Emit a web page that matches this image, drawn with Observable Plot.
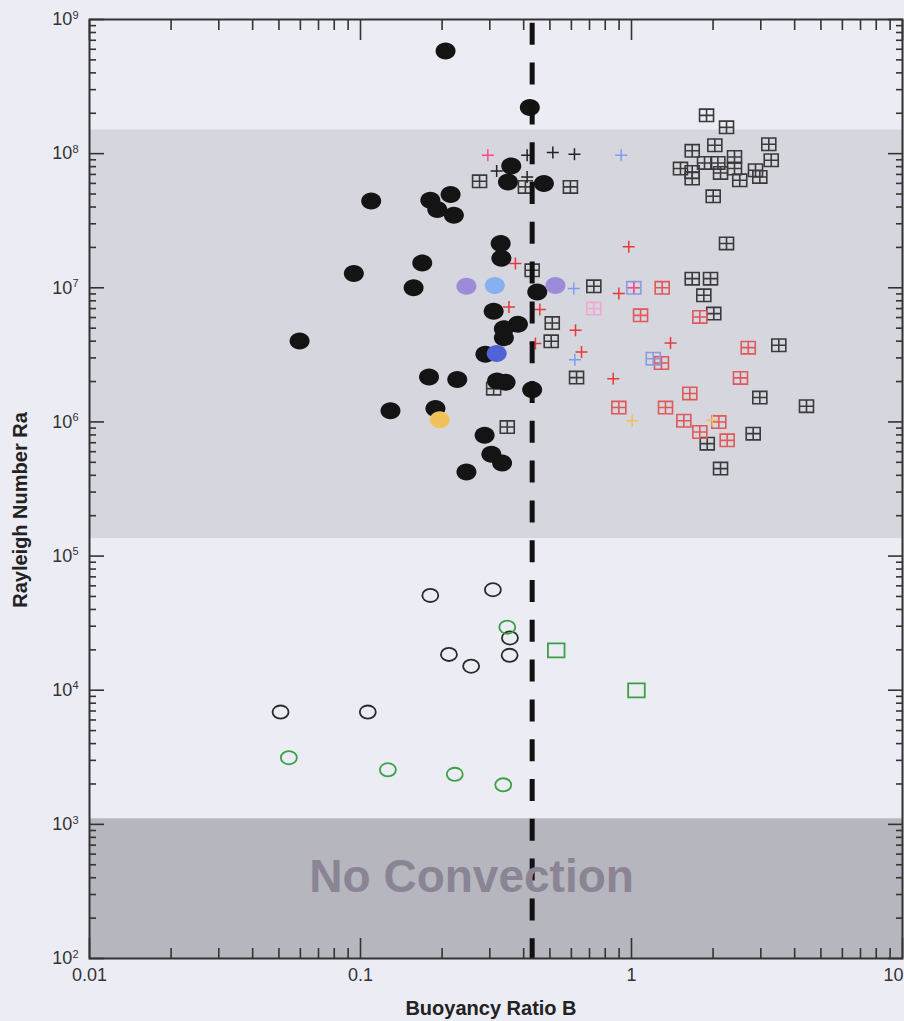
<!DOCTYPE html>
<html><head><meta charset="utf-8">
<script src="https://cdn.jsdelivr.net/npm/d3@7"></script>
<script src="https://cdn.jsdelivr.net/npm/@observablehq/plot@0.6"></script>
<style>html,body{margin:0;padding:0;overflow:hidden;background:#ececf4;}</style>
</head><body><div id="chart"></div>
<script>
// ---- data: [Buoyancy ratio B, Rayleigh number Ra] ----
const blackDots = [
  [0.206, 5.83e8], [0.4215, 2.21e8], [0.360, 8.1e7], [0.350, 6.15e7], [0.475, 5.98e7],
  [0.1095, 4.44e7], [0.181, 4.49e7], [0.215, 4.95e7], [0.192, 3.83e7], [0.221, 3.47e7],
  [0.329, 2.14e7], [0.331, 1.66e7], [0.0945, 1.28e7], [0.169, 1.53e7], [0.157, 1.0e7],
  [0.449, 9.3e6], [0.310, 6.68e6], [0.381, 5.34e6], [0.338, 4.96e6], [0.338, 4.25e6],
  [0.289, 3.19e6], [0.0596, 4.01e6], [0.179, 2.16e6], [0.2275, 2.07e6], [0.319, 2.02e6],
  [0.343, 1.98e6], [0.430, 1.74e6], [0.129, 1.21e6], [0.189, 1.26e6], [0.287, 7.94e5],
  [0.304, 5.73e5], [0.333, 4.94e5], [0.246, 4.23e5]
];
const purpleDots = [[0.246, 1.026e7], [0.524, 1.04e7]];
const lightBlueDots = [[0.313, 1.04e7]];
const blueDots = [[0.318, 3.23e6]];
const orangeDots = [[0.196, 1.04e6]];

const blackPlus = [[0.412, 9.73e7], [0.5125, 1.02e8], [0.616, 9.9e7], [0.318, 7.43e7], [0.412, 6.7e7]];
const pinkPlus = [[0.295, 9.73e7], [1.02, 1.0e7]];
const redPlus = [
  [0.373, 1.52e7], [0.353, 7.19e6], [0.459, 6.88e6], [0.442, 3.84e6], [0.6215, 4.82e6],
  [0.654, 3.32e6], [0.977, 2.02e7], [0.898, 9.05e6], [1.393, 3.88e6], [0.856, 2.10e6]
];
const bluePlus = [[0.916, 9.73e7], [0.6125, 9.86e6], [0.618, 2.91e6]];
const orangePlus = [[1.006, 1.02e6], [1.986, 1.03e6]];

const blackBoxes = [
  [0.275, 6.22e7], [0.406, 5.65e7], [0.595, 5.65e7], [1.892, 1.93e8], [2.242, 1.57e8],
  [1.675, 1.05e8], [2.030, 1.155e8], [3.211, 1.175e8], [3.278, 8.93e7], [1.516, 7.74e7],
  [1.675, 7.30e7], [1.675, 6.52e7], [1.860, 8.52e7], [2.083, 8.52e7], [2.131, 7.18e7],
  [2.399, 9.45e7], [2.399, 7.74e7], [2.509, 6.33e7], [2.868, 7.52e7], [2.975, 6.7e7],
  [2.002, 4.81e7], [2.242, 2.14e7], [0.430, 1.35e7], [0.726, 1.026e7], [0.510, 5.46e6],
  [0.5055, 3.99e6], [0.627, 2.14e6], [0.310, 1.77e6], [0.348, 9.16e5], [1.675, 1.17e7],
  [1.957, 1.17e7], [1.849, 8.79e6], [2.012, 6.42e6], [3.496, 3.73e6], [2.975, 1.52e6],
  [4.423, 1.31e6], [1.903, 6.89e5], [2.812, 8.18e5], [2.131, 4.49e5]
];
const redBoxes = [
  [1.298, 1.0e7], [1.080, 6.23e6], [1.787, 6.06e6], [2.696, 3.58e6], [1.290, 2.75e6],
  [2.524, 2.13e6], [1.641, 1.63e6], [0.898, 1.28e6], [1.335, 1.28e6], [1.560, 1.02e6],
  [2.100, 9.98e5], [1.787, 8.41e5], [2.255, 7.29e5]
];
const blueBoxes = [[1.02, 1.0e7], [1.203, 2.96e6]];
const pinkBoxes = [[0.726, 7.0e6]];

const blackRings = [
  [0.181, 5.09e4], [0.308, 5.61e4], [0.356, 2.45e4], [0.212, 1.85e4], [0.256, 1.51e4],
  [0.355, 1.82e4], [0.1064, 6.87e3], [0.0507, 6.87e3]
];
const greenRings = [[0.348, 2.95e4], [0.0544, 3.14e3], [0.1262, 2.55e3], [0.2228, 2.36e3], [0.3363, 1.97e3]];
const greenSquares = [[0.5275, 1.98e4], [1.043, 9.97e3]];

const criticalB = [0.43];
const convectionBand = [[1.35e5, 1.5e8]];
const noConvectionBand = [[100, 1.1e3]];
const annotationText = ["No Convection"];
const annotationB = [0.257];
const annotationRa = [400];

const majorX = [0.01, 0.1, 1, 10];
const minorX = [0.02,0.03,0.04,0.05,0.06,0.07,0.08,0.09,0.2,0.3,0.4,0.5,0.6,0.7,0.8,0.9,2,3,4,5,6,7,8,9];
const majorY = [1e2,1e3,1e4,1e5,1e6,1e7,1e8,1e9];
const minorY = [];
for (const d of majorY.slice(0, -1)) for (let m = 2; m <= 9; m++) minorY.push(+(d * m).toPrecision(3));

const xLabel = "Buoyancy Ratio B";
const yLabel = "Rayleigh Number Ra";

// ---- symbols ----
const K = 0.5523;
const ellipse = (rx, ry) => ({draw(c) {
  c.moveTo(rx, 0);
  c.bezierCurveTo(rx, ry*K, rx*K, ry, 0, ry);
  c.bezierCurveTo(-rx*K, ry, -rx, ry*K, -rx, 0);
  c.bezierCurveTo(-rx, -ry*K, -rx*K, -ry, 0, -ry);
  c.bezierCurveTo(rx*K, -ry, rx, -ry*K, rx, 0);
  c.closePath();
}});
const box = (w, h) => ({draw(c) { c.rect(-w, -h, 2*w, 2*h); }});
const boxCross = (w, h) => ({draw(c) {
  c.rect(-w, -h, 2*w, 2*h); c.moveTo(-w, 0); c.lineTo(w, 0); c.moveTo(0, -h); c.lineTo(0, h);
}});
const plus = (w, h) => ({draw(c) { c.moveTo(-w, 0); c.lineTo(w, 0); c.moveTo(0, -h); c.lineTo(0, h); }});

const filled = (data, color) => Plot.dot(data, {x: d => d[0], y: d => d[1], r: 1,
  symbol: ellipse(10, 8.5), fill: color, stroke: "none"});
const outlined = (data, symbol, color, sw) => Plot.dot(data, {x: d => d[0], y: d => d[1], r: 1,
  symbol, fill: "none", stroke: color, strokeWidth: sw});

const axisColor = "#333";
const chart = Plot.plot({
  width: 904, height: 1021,
  marginLeft: 89, marginRight: 2, marginTop: 19, marginBottom: 63,
  x: {type: "log", domain: [0.01, 10], axis: null, label: null},
  y: {type: "log", domain: [100, 1e9], axis: null, label: null},
  style: {background: "#ececf4", fontFamily: "'Liberation Sans', Arial, sans-serif", fontSize: "18px", color: "#333"},
  marks: [
    Plot.rect(convectionBand, {y1: d => d[0], y2: d => d[1], fill: "#d6d6df"}),
    Plot.rect(noConvectionBand, {y1: d => d[0], y2: d => d[1], fill: "#b6b6be"}),
    outlined(blackBoxes, boxCross(7, 6.2), "#3a3a3a", 1.6),
    outlined(redBoxes, boxCross(7, 6.2), "#e05858", 1.6),
    outlined(blueBoxes, boxCross(7, 6.2), "#8c9be0", 1.6),
    outlined(pinkBoxes, boxCross(7, 6.2), "#f0a8d2", 1.6),
    outlined(blackPlus, plus(6, 6), "#222", 1.5),
    outlined(redPlus, plus(6, 6), "#e8393a", 1.5),
    outlined(pinkPlus, plus(6, 6), "#ff4a8a", 1.5),
    outlined(bluePlus, plus(6, 6), "#7d9df2", 1.5),
    outlined(orangePlus, plus(6, 6), "#f0c060", 1.5),
    outlined(blackRings, ellipse(8, 6.6), "#2a2a2a", 1.8),
    outlined(greenRings, ellipse(8, 6.6), "#3ca045", 1.8),
    outlined(greenSquares, box(8.3, 7), "#3ca045", 1.8),
    filled(blackDots, "#141414"),
    filled(purpleDots, "#9b8bd8"),
    filled(lightBlueDots, "#86b0f0"),
    filled(blueDots, "#4f62d6"),
    filled(orangeDots, "#f2c25a"),
    Plot.ruleX(criticalB, {stroke: "#111", strokeWidth: 5, strokeDasharray: "22,17.8", strokeDashoffset: 36}),
    Plot.text(annotationText, {x: (d, i) => annotationB[i], y: (d, i) => annotationRa[i], text: d => d,
      fontSize: 46, fontWeight: "bold", fill: "#8a8494", textAnchor: "middle"}),
    Plot.frame({stroke: axisColor, strokeWidth: 2}),
    // ticks (inward)
    Plot.axisX({ticks: majorX, anchor: "bottom", tickSize: -20, tickFormat: () => "", stroke: axisColor, strokeWidth: 1.6, label: null}),
    Plot.axisX({ticks: minorX, anchor: "bottom", tickSize: -10, tickFormat: () => "", stroke: axisColor, strokeWidth: 1.6, label: null}),
    Plot.axisX({ticks: majorX, anchor: "top", tickSize: -20, tickFormat: () => "", stroke: axisColor, strokeWidth: 1.6, label: null}),
    Plot.axisX({ticks: minorX, anchor: "top", tickSize: -10, tickFormat: () => "", stroke: axisColor, strokeWidth: 1.6, label: null}),
    Plot.axisY({ticks: majorY, anchor: "left", tickSize: -15, tickFormat: () => "", stroke: axisColor, strokeWidth: 1.6, label: null}),
    Plot.axisY({ticks: minorY, anchor: "left", tickSize: -7, tickFormat: () => "", stroke: axisColor, strokeWidth: 1.6, label: null}),
    Plot.axisY({ticks: majorY, anchor: "right", tickSize: -15, tickFormat: () => "", stroke: axisColor, strokeWidth: 1.6, label: null}),
    Plot.axisY({ticks: minorY, anchor: "right", tickSize: -7, tickFormat: () => "", stroke: axisColor, strokeWidth: 1.6, label: null}),
    // tick labels
    Plot.axisX({ticks: majorX.slice(0, -1), anchor: "bottom", tickSize: 0, tickPadding: 10, tickFormat: d => String(d), fill: "#333", label: null}),
    Plot.axisX({ticks: majorX.slice(-1), anchor: "bottom", tickSize: 0, tickPadding: 10, textAnchor: "end", dx: 1, tickFormat: d => String(d), fill: "#333", label: null}),
    Plot.axisY({ticks: majorY, anchor: "left", tickSize: 0, tickPadding: 11, tickFormat: d => "10^" + Math.round(Math.log10(d)), fill: "#333", label: null}),
    // titles
    Plot.text([xLabel], {frameAnchor: "bottom", dy: 50, dx: -5, textAnchor: "middle", lineAnchor: "middle", fontWeight: "bold", fontSize: 20, fill: "#222"}),
    Plot.text([yLabel], {frameAnchor: "left", rotate: -90, dx: -69, dy: 21, textAnchor: "middle", lineAnchor: "middle", fontWeight: "bold", fontSize: 20, fill: "#222"})
  ]
});
d3.select(chart).selectAll('g[aria-label="y-axis tick label"] text').each(function() {
  const t = d3.select(this);
  const parts = t.text().split("^");
  if (parts.length < 2) return;
  t.text(parts[0]);
  t.append("tspan").attr("dy", "-0.6em").attr("font-size", "11px").text(parts[1]);
});
document.getElementById("chart").appendChild(chart);
</script></body></html>
